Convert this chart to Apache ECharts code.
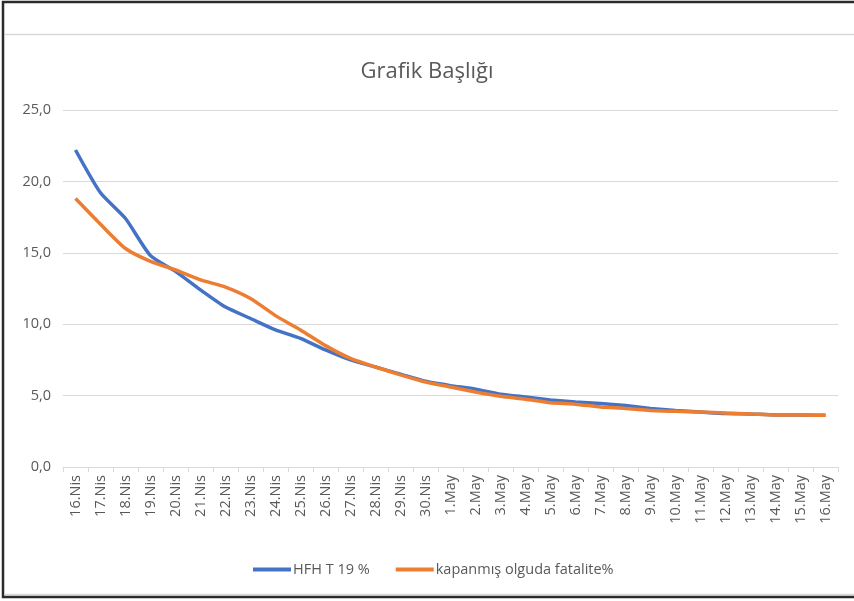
<!DOCTYPE html>
<html><head><meta charset="utf-8">
<script src="https://cdn.jsdelivr.net/npm/echarts@6/dist/echarts.min.js"></script>
<style>html,body{margin:0;padding:0;background:#fff}#c{width:854px;height:601px}</style>
</head><body><div id="c"></div>
<script>
const categories = ['16.Nis','17.Nis','18.Nis','19.Nis','20.Nis','21.Nis','22.Nis','23.Nis','24.Nis','25.Nis','26.Nis','27.Nis','28.Nis','29.Nis','30.Nis',
'1.May','2.May','3.May','4.May','5.May','6.May','7.May','8.May','9.May','10.May','11.May','12.May','13.May','14.May','15.May','16.May'];
const hfhValues = [22.2,19.2,17.4,14.8,13.7,12.4,11.2,10.4,9.6,9.0,8.2,7.5,7.0,6.5,6.0,5.7,5.45,5.1,4.9,4.7,4.55,4.45,4.3,4.1,3.95,3.85,3.75,3.72,3.65,3.65,3.62];
const fataliteValues = [18.8,17.0,15.3,14.4,13.8,13.1,12.6,11.8,10.6,9.6,8.5,7.6,7.0,6.45,5.95,5.6,5.25,4.95,4.75,4.5,4.4,4.2,4.1,3.95,3.9,3.85,3.78,3.72,3.65,3.65,3.62];
const yTicks = [0,5,10,15,20,25];
const seriesNames = ['HFH T 19 %','kapanmış olguda fatalite%'];

const chart = echarts.init(document.getElementById('c'), null, {renderer:'canvas'});
const txt = '#595959';
const font = 'Open Sans';
chart.setOption({
  animation:false,
  title:{text:'Grafik Başlığı',left:'center',top:56,textStyle:{color:txt,fontSize:22,fontWeight:'normal',fontFamily:font}},
  grid:{left:63,right:16,top:110,bottom:134},
  legend:{left:248,top:557,itemWidth:38,itemHeight:4,itemGap:26,icon:'rect',
    textStyle:{color:txt,fontSize:14.5,fontFamily:font,padding:[0,0,0,-3]},data:seriesNames},
  xAxis:{type:'category',data:categories,boundaryGap:true,
    axisLine:{lineStyle:{color:'#d9d9d9',width:1}},
    axisTick:{show:true,length:5,lineStyle:{color:'#d9d9d9'},alignWithLabel:false},
    axisLabel:{rotate:90,color:txt,fontSize:14.5,fontFamily:font,interval:0,margin:8}},
  yAxis:{type:'value',min:0,max:25,interval:5,
    axisLine:{show:false},axisTick:{show:false},
    splitLine:{lineStyle:{color:'#d9d9d9',width:1}},
    axisLabel:{color:txt,fontSize:14.5,fontFamily:font,margin:12,
      formatter:v=>yTicks.includes(v)?v.toFixed(1).replace('.',','):''}},
  series:[
    {name:seriesNames[0],type:'line',data:hfhValues,symbol:'none',smooth:0.2,
      lineStyle:{color:'#4472C4',width:3.5},itemStyle:{color:'#4472C4'}},
    {name:seriesNames[1],type:'line',data:fataliteValues,symbol:'none',smooth:0.2,
      lineStyle:{color:'#ED7D31',width:3.5},itemStyle:{color:'#ED7D31'}}
  ],
  graphic:[
    {type:'line',shape:{x1:5,y1:34.5,x2:854,y2:34.5},style:{stroke:'#d9d9d9',lineWidth:1.5},silent:true},
    {type:'line',shape:{x1:5,y1:594.5,x2:854,y2:594.5},style:{stroke:'#d9d9d9',lineWidth:1.5},silent:true},
    {type:'rect',shape:{x:3,y:2,width:900,height:595},style:{fill:'none',stroke:'#2b2b2b',lineWidth:2.5},silent:true}
  ]
});
</script></body></html>
